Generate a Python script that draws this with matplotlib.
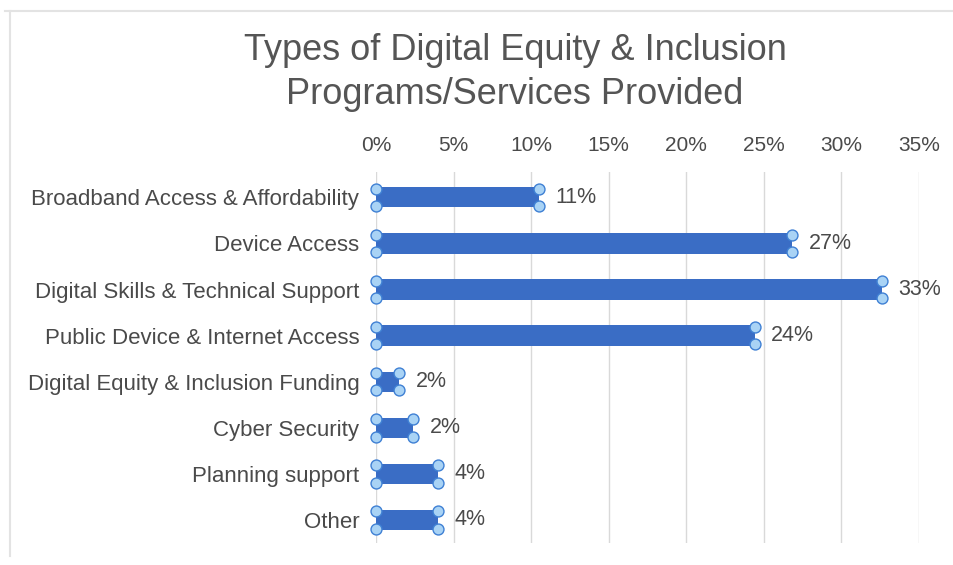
import matplotlib
matplotlib.use("Agg")
import matplotlib.pyplot as plt
from matplotlib.lines import Line2D
from matplotlib.ticker import FuncFormatter

plt.rcParams['font.family'] = ['Liberation Sans', 'DejaVu Sans']

categories = [
    "Broadband Access & Affordability",
    "Device Access",
    "Digital Skills & Technical Support",
    "Public Device & Internet Access",
    "Digital Equity & Inclusion Funding",
    "Cyber Security",
    "Planning support",
    "Other",
]
values = [10.5, 26.8, 32.6, 24.4, 1.5, 2.4, 4.0, 4.0]
value_labels = ["11%", "27%", "33%", "24%", "2%", "2%", "4%", "4%"]
x_ticks = [0, 5, 10, 15, 20, 25, 30, 35]

bar_color = "#3A6DC5"
handle_fill = "#A9D3F5"
handle_edge = "#3F80D4"
text_color = "#4A4A4A"

fig = plt.figure(figsize=(9.54, 5.65), dpi=100)
ax = fig.add_axes([376 / 954, 1 - 543 / 565, (919 - 376) / 954, (543 - 172) / 565])

ypos = list(range(len(categories)))
bar_h = 0.44
handle_off = 0.19
ax.barh(ypos, values, height=bar_h, color=bar_color, zorder=3)

# selection handles at bar corners
for y, v in zip(ypos, values):
    xs = [0, 0, v, v]
    ys = [y - handle_off, y + handle_off, y - handle_off, y + handle_off]
    ax.scatter(xs, ys, s=62, facecolor=handle_fill, edgecolor=handle_edge,
               linewidth=1.0, zorder=4, clip_on=False)

for y, v, lab in zip(ypos, values, value_labels):
    ax.annotate(lab, (v, y), xytext=(12, 0), textcoords="offset points",
                va="center", ha="left", fontsize=15.5, color=text_color)

ax.set_xlim(0, 35)
ax.set_ylim(len(categories) - 0.5, -0.55)
ax.set_xticks(x_ticks)
ax.xaxis.set_major_formatter(FuncFormatter(lambda x, p: f"{int(x)}%"))
ax.xaxis.tick_top()
ax.set_yticks(ypos)
ax.set_yticklabels(categories)
ax.tick_params(axis="x", length=0, pad=12, labelsize=15, labelcolor=text_color)
ax.tick_params(axis="y", length=0, pad=12, labelsize=16, labelcolor=text_color)
ax.grid(axis="x", color="#D9D9D9", linewidth=1.0, zorder=0)
for s in ax.spines.values():
    s.set_visible(False)

fig.text(515 / 954, 1 - 50 / 565, "Types of Digital Equity & Inclusion",
         ha="center", va="center", fontsize=26, color="#555555")
fig.text(515 / 954, 1 - 95 / 565, "Programs/Services Provided",
         ha="center", va="center", fontsize=26, color="#555555")

# chart frame (top and left edges)
fig.add_artist(Line2D([5 / 954, 1.0], [1 - 11 / 565, 1 - 11 / 565],
                      transform=fig.transFigure, color="#E3E3E3", linewidth=1.5))
fig.add_artist(Line2D([10 / 954, 10 / 954], [1 - 11 / 565, 1 - 556 / 565],
                      transform=fig.transFigure, color="#E3E3E3", linewidth=1.5))

fig.savefig("out.png", dpi=100)
